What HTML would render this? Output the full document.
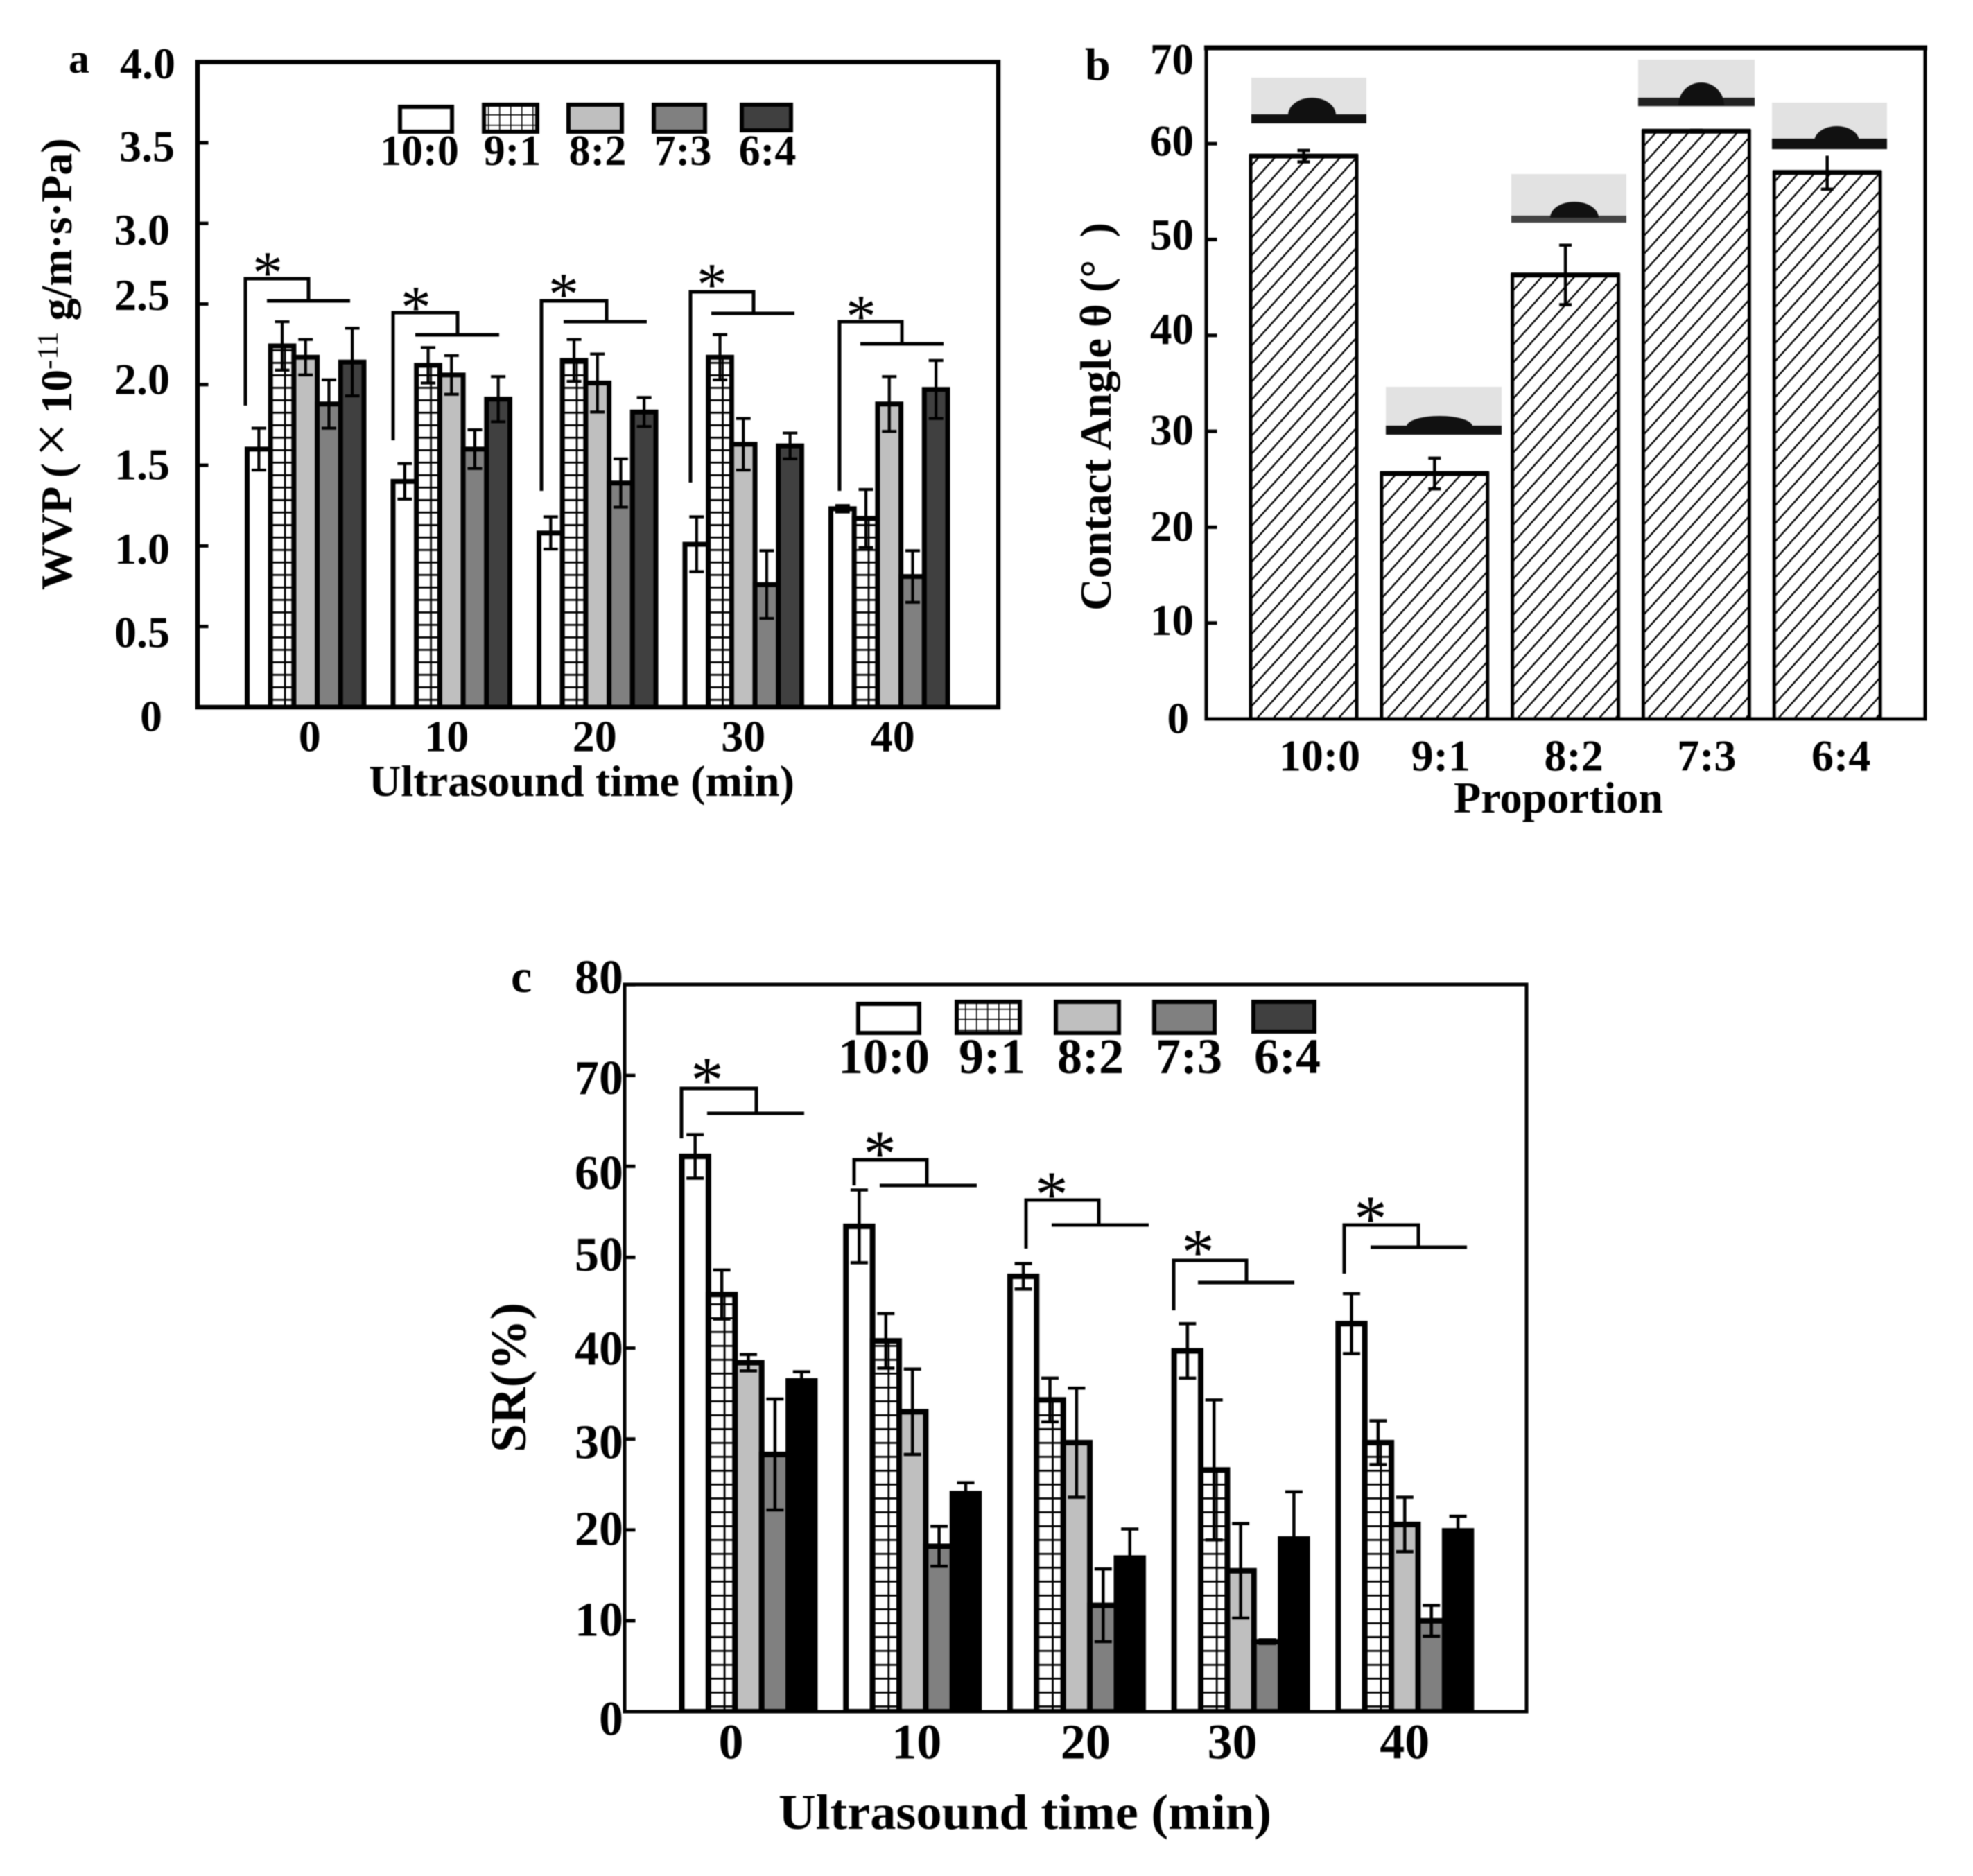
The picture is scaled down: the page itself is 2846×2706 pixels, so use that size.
<!DOCTYPE html>
<html lang="en">
<head>
<meta charset="utf-8">
<title>WVP, contact angle and SR charts</title>
<style>
html,body{margin:0;padding:0;background:#fff;}
#figure{display:block;width:2846px;height:2706px;filter:blur(0.9px);}
text{font-family:"Liberation Serif","DejaVu Serif",serif;font-weight:bold;fill:#000;}
.star{font-weight:normal;}
.ln{stroke:#000;stroke-width:5;fill:none;}
</style>
</head>
<body>
<svg id="figure" xmlns="http://www.w3.org/2000/svg" width="2846" height="2706" viewBox="0 0 2846 2706">
<defs>
<clipPath id="clipA"><rect x="285" y="89" width="1155" height="931"/></clipPath>
<clipPath id="clipB"><rect x="1740" y="69" width="1037" height="968"/></clipPath>
<clipPath id="clipC"><rect x="901" y="1420" width="1301" height="1049"/></clipPath>
<pattern id="crossRowsA" patternUnits="userSpaceOnUse" width="40" height="18"><rect width="40" height="18" fill="#fff"/><path d="M0 0H40" stroke="#000" stroke-width="5.6"/></pattern>
<pattern id="crossRowsC" patternUnits="userSpaceOnUse" width="40" height="20"><rect width="40" height="20" fill="#fff"/><path d="M0 0H40" stroke="#000" stroke-width="5.6"/></pattern>
<pattern id="crossLegend" patternUnits="userSpaceOnUse" width="16" height="15"><rect width="16" height="15" fill="#fff"/><path d="M0 0H16M0 0V15" stroke="#000" stroke-width="3"/></pattern>
<pattern id="hatch" patternUnits="userSpaceOnUse" width="23.5" height="26"><rect width="23.5" height="26" fill="#fff"/><path d="M-2.35 28.6L25.85 -2.6M-2.35 2.6L2.35 -2.6M21.15 28.6L25.85 23.4" stroke="#000" stroke-width="2.4"/></pattern>
</defs>
<rect width="2846" height="2706" fill="#fff"/>

<!-- PANEL A -->
<g id="panelA">
<text x="99" y="105" font-size="60">a</text>
<g id="barsA" clip-path="url(#clipA)"></g>
<rect x="285" y="89.5" width="1155" height="930.5" fill="none" stroke="#000" stroke-width="6.5"/>
<g id="ticksA"></g>
<g id="xLabelsA"></g>
<text x="532" y="1148" font-size="64" textLength="614" lengthAdjust="spacingAndGlyphs">Ultrasound time (min)</text>
<text transform="translate(103 851) rotate(-90)" font-size="64">WVP (<tspan font-size="87" font-weight="normal" dx="9">×</tspan><tspan dx="13">10</tspan><tspan font-size="42" font-weight="normal" dy="-20">-11</tspan><tspan dy="20"> g/m·s·Pa)</tspan></text>
<g>
<g><rect x="577" y="154" width="75" height="36" fill="#fff" stroke="#000" stroke-width="6"/><text x="605" y="238" font-size="62" text-anchor="middle">10:0</text></g>
<g><rect x="698" y="151" width="77" height="39" fill="url(#crossLegend)" stroke="#000" stroke-width="6"/><text x="739" y="238" font-size="62" text-anchor="middle">9:1</text></g>
<g><rect x="820" y="151" width="77" height="39" fill="#bfbfbf" stroke="#000" stroke-width="6"/><text x="862" y="238" font-size="62" text-anchor="middle">8:2</text></g>
<g><rect x="943" y="151" width="74" height="39" fill="#808080" stroke="#000" stroke-width="6"/><text x="985" y="238" font-size="62" text-anchor="middle">7:3</text></g>
<g><rect x="1070" y="151" width="71" height="37" fill="#404040" stroke="#000" stroke-width="6"/><text x="1107" y="238" font-size="62" text-anchor="middle">6:4</text></g>
</g>
<g>
<path class="ln" d="M354 585V402H445V434M385 434H505"/><text class="star" x="386" y="423" font-size="88" text-anchor="middle">*</text>
<path class="ln" d="M567 635V451H660V483M599 483H720"/><text class="star" x="600" y="473" font-size="88" text-anchor="middle">*</text>
<path class="ln" d="M781 708V434H875V464M813 464H933"/><text class="star" x="813" y="454" font-size="88" text-anchor="middle">*</text>
<path class="ln" d="M996 696V421H1087V452M1026 452H1146"/><text class="star" x="1027" y="440" font-size="88" text-anchor="middle">*</text>
<path class="ln" d="M1211 708V464H1301V496M1241 496H1361"/><text class="star" x="1242" y="486" font-size="88" text-anchor="middle">*</text>
</g>
</g>

<!-- PANEL B -->
<g id="panelB">
<text x="1565" y="115" font-size="66">b</text>
<g id="barsB" clip-path="url(#clipB)"></g>
<rect x="1740" y="69" width="1037" height="968" fill="none" stroke="#000" stroke-width="5"/>
<line x1="1737" y1="69" x2="2780" y2="69" stroke="#000" stroke-width="7"/>
<g id="ticksB"></g>
<g id="xLabelsB"></g>
<text x="2097" y="1172" font-size="64" textLength="302" lengthAdjust="spacingAndGlyphs">Proportion</text>
<text transform="translate(1602 881) rotate(-90)" font-size="64" textLength="560" lengthAdjust="spacingAndGlyphs">Contact Angle θ (°&#160;&#160;)</text>
<g><rect x="1805" y="112" width="166" height="66" fill="#e2e2e2"/><rect x="1805" y="165" width="166" height="13" fill="#111"/><path d="M1858 166A34.5 25 0 0 1 1927 166Z" fill="#111"/></g>
<g><rect x="1999" y="558" width="167" height="69" fill="#e2e2e2"/><rect x="1999" y="614" width="167" height="13" fill="#111"/><path d="M2029 615A47.5 15 0 0 1 2124 615Z" fill="#111"/></g>
<g><rect x="2180" y="251" width="166" height="71" fill="#e2e2e2"/><rect x="2180" y="311" width="166" height="10" fill="#444"/><path d="M2236 314A35 23 0 0 1 2306 314Z" fill="#111"/></g>
<g><rect x="2363" y="86" width="168" height="69" fill="#e2e2e2"/><rect x="2363" y="141" width="168" height="12" fill="#222"/><path d="M2421 152A33 33 0 0 1 2487 152Z" fill="#111"/></g>
<g><rect x="2556" y="148" width="166" height="68" fill="#e2e2e2"/><rect x="2556" y="200" width="166" height="15" fill="#111"/><path d="M2617 204A32.5 22 0 0 1 2682 204Z" fill="#111"/></g>
</g>

<!-- PANEL C -->
<g id="panelC">
<text x="737" y="1431" font-size="68">c</text>
<g id="barsC" clip-path="url(#clipC)"></g>
<rect x="901" y="1420" width="1301" height="1049" fill="none" stroke="#000" stroke-width="5"/>
<g id="ticksC"></g>
<g id="xLabelsC"></g>
<text x="1123" y="2638" font-size="72" textLength="711" lengthAdjust="spacingAndGlyphs">Ultrasound time (min)</text>
<text transform="translate(758 2095) rotate(-90)" font-size="73" textLength="216" lengthAdjust="spacingAndGlyphs">SR(%)</text>
<g>
<g><rect x="1238" y="1448" width="88" height="42" fill="#fff" stroke="#000" stroke-width="6"/><text x="1275" y="1548" font-size="72" text-anchor="middle">10:0</text></g>
<g><rect x="1380" y="1445" width="91" height="45" fill="url(#crossLegend)" stroke="#000" stroke-width="6"/><text x="1431" y="1548" font-size="72" text-anchor="middle">9:1</text></g>
<g><rect x="1523" y="1445" width="91" height="45" fill="#bfbfbf" stroke="#000" stroke-width="6"/><text x="1573" y="1548" font-size="72" text-anchor="middle">8:2</text></g>
<g><rect x="1665" y="1445" width="87" height="45" fill="#808080" stroke="#000" stroke-width="6"/><text x="1715" y="1548" font-size="72" text-anchor="middle">7:3</text></g>
<g><rect x="1808" y="1445" width="88" height="43" fill="#404040" stroke="#000" stroke-width="6"/><text x="1857" y="1548" font-size="72" text-anchor="middle">6:4</text></g>
</g>
<g>
<path class="ln" d="M983 1642V1570H1091V1606M1020 1606H1160"/><text class="star" x="1020" y="1590" font-size="95" text-anchor="middle">*</text>
<path class="ln" d="M1232 1710V1673H1337V1710M1269 1710H1409"/><text class="star" x="1269" y="1696" font-size="95" text-anchor="middle">*</text>
<path class="ln" d="M1480 1801V1731H1585V1767M1517 1767H1657"/><text class="star" x="1517" y="1755" font-size="95" text-anchor="middle">*</text>
<path class="ln" d="M1693 1890V1818H1798V1850M1728 1850H1867"/><text class="star" x="1728" y="1838" font-size="95" text-anchor="middle">*</text>
<path class="ln" d="M1939 1837V1767H2046V1799M1977 1799H2116"/><text class="star" x="1977" y="1790" font-size="95" text-anchor="middle">*</text>
</g>
</g>
</svg>

<script>
// ---- data ----
const timeCategories = ['0', '10', '20', '30', '40'];
const proportionCategories = ['10:0', '9:1', '8:2', '7:3', '6:4'];

// Panel a: WVP
const wvpTicks = [0, 0.5, 1.0, 1.5, 2.0, 2.5, 3.0, 3.5, 4.0];
const wvpTickLabels = ['0', '0.5', '1.0', '1.5', '2.0', '2.5', '3.0', '3.5', '4.0'];
const wvp10to0 = [1.60, 1.40, 1.08, 1.01, 1.23];
const wvp9to1 = [2.24, 2.12, 2.15, 2.17, 1.17];
const wvp8to2 = [2.17, 2.06, 2.01, 1.63, 1.88];
const wvp7to3 = [1.88, 1.60, 1.39, 0.76, 0.81];
const wvp6to4 = [2.14, 1.91, 1.83, 1.62, 1.97];
const wvpErr10to0 = [0.13, 0.11, 0.10, 0.17, 0.02];
const wvpErr9to1 = [0.15, 0.11, 0.13, 0.14, 0.18];
const wvpErr8to2 = [0.11, 0.12, 0.18, 0.16, 0.17];
const wvpErr7to3 = [0.15, 0.12, 0.15, 0.21, 0.16];
const wvpErr6to4 = [0.21, 0.14, 0.09, 0.08, 0.18];

// Panel b: contact angle
const angleTicks = [0, 10, 20, 30, 40, 50, 60, 70];
const angleTickLabels = ['0', '10', '20', '30', '40', '50', '60', '70'];
const angleValues = [58.7, 25.6, 46.3, 61.3, 57.0];
const angleErrors = [0.6, 1.6, 3.1, 0.1, 1.75];

// Panel c: SR
const srTicks = [0, 10, 20, 30, 40, 50, 60, 70, 80];
const srTickLabels = ['0', '10', '20', '30', '40', '50', '60', '70', '80'];
const sr10to0 = [61.1, 53.4, 47.9, 39.7, 42.7];
const sr9to1 = [45.9, 40.8, 34.3, 26.6, 29.6];
const sr8to2 = [38.4, 33.0, 29.6, 15.5, 20.6];
const sr7to3 = [28.3, 18.2, 11.7, 7.7, 10.0];
const sr6to4 = [36.4, 24.0, 16.9, 19.0, 19.9];
const srErr10to0 = [2.4, 4.0, 1.4, 3.0, 3.3];
const srErr9to1 = [2.7, 3.0, 2.4, 7.7, 2.4];
const srErr8to2 = [0.9, 4.7, 6.0, 5.2, 3.0];
const srErr7to3 = [6.1, 2.2, 4.0, 0.2, 1.7];
const srErr6to4 = [1.0, 1.2, 3.2, 5.2, 1.6];

// ---- layout: hand-placed label offsets in the original figure ----
const labelShiftAY = [13, 8, 4, -1, -8, -13, 9, 5, 2];
const labelShiftAX = [-11, 0, 0, 0, 0, 0, 0, 7, 8];
const labelShiftBY = [-1, -4, -1, -2, -9, -7, -4, 17];
const labelShiftBX = [-7, 0, 0, 0, 0, 0, 0, 0];
const labelShiftCY = [10, -2, -2, 4, 0, -4, 9, 3, -11];
const groupLabelShiftA = [6, -7, -4, 0, 5];
const groupLabelShiftB = [23, 9, 12, 15, 20];
const groupLabelShiftC = [-25, 6, 13, -12, 0];

// ---- axis functions ----
const yA = v => 1020 - v * 232.6;
const xA = (g, s) => 356.5 + g * 210.5 + s * 33.7;
const yB = v => 1037 - v * 13.83;
const xB = i => 1804 + i * 188.8;
const yC = v => 2469 - v * 13.11;
const xC = (g, s) => 983.5 + g * 236.7 + s * 38.4;

const NS = 'http://www.w3.org/2000/svg';
function make(tag, attrs, parent) {
  const el = document.createElementNS(NS, tag);
  for (const k in attrs) el.setAttribute(k, attrs[k]);
  parent.appendChild(el);
  return el;
}

function drawErrorBar(parent, cx, yTop, yLow, capW, sw, showTopCap) {
  const g = make('g', {stroke: '#000', 'stroke-width': sw, fill: 'none'}, parent);
  
  
  make('line', {x1: cx, x2: cx, y1: yTop, y2: yLow}, g);
  if (showTopCap) make('line', {x1: cx - capW / 2, x2: cx + capW / 2, y1: yTop, y2: yTop}, g);
  make('line', {x1: cx - capW / 2, x2: cx + capW / 2, y1: yLow, y2: yLow}, g);
}

function drawYAxis(parent, ticks, labels, yFn, axisX, rightEdge, shiftX, shiftY, size) {
  ticks.forEach((t, i) => {
    const tick = make('line', {x1: axisX, x2: axisX + 15.5, y1: yFn(t), y2: yFn(t), stroke: '#000', 'stroke-width': 5}, parent);
    
    
    const label = make('text', {x: rightEdge + shiftX[i], y: yFn(t) + shiftY[i] + size * 0.338, 'font-size': size, 'text-anchor': 'end'}, parent);
    
    
    label.textContent = labels[i];
  });
}

function drawXLabels(parent, labels, centerFn, shift, yCenter, size) {
  labels.forEach((c, i) => {
    const label = make('text', {x: centerFn(i) + shift[i], y: yCenter + size * 0.338, 'font-size': size, 'text-anchor': 'middle'}, parent);
    
    
    label.textContent = c;
  });
}

function drawGroupedBars(parent, series, errors, fills, xFn, yFn, barW, capW, barStroke, errStroke) {
  const base = yFn(0);
  series.forEach((vals, s) => {
    vals.forEach((v, g) => {
      const bar = make('rect', {x: xFn(g, s), y: yFn(v), width: barW, height: base - yFn(v), fill: fills[s], stroke: '#000', 'stroke-width': barStroke}, parent);
      
      
      if (s === 1) {
        const grid = make('line', {x1: xFn(g, s) + barW / 2 + 4, x2: xFn(g, s) + barW / 2 + 4, y1: yFn(v), y2: base, stroke: '#000', 'stroke-width': 2.8}, parent);
        
        
      }
    });
  });
  series.forEach((vals, s) => {
    vals.forEach((v, g) => {
      drawErrorBar(parent, xFn(g, s) + barW / 2, yFn(v + errors[s][g]), yFn(v - errors[s][g]), capW, errStroke, true);
    });
  });
}

// ---- panel a ----
drawGroupedBars(document.getElementById('barsA'),
  [wvp10to0, wvp9to1, wvp8to2, wvp7to3, wvp6to4],
  [wvpErr10to0, wvpErr9to1, wvpErr8to2, wvpErr7to3, wvpErr6to4],
  ['#fff', 'url(#crossRowsA)', '#bfbfbf', '#808080', '#404040'],
  xA, yA, 33.7, 21, 7, 4.2);
drawYAxis(document.getElementById('ticksA'), wvpTicks, wvpTickLabels, yA, 285, 245, labelShiftAX, labelShiftAY, 64);
drawXLabels(document.getElementById('xLabelsA'), timeCategories, i => 352 + i * 210.5 + 2.5 * 33.7 + 4.5, groupLabelShiftA, 1062, 64);

// ---- panel b ----
const barsB = document.getElementById('barsB');
angleValues.forEach((v, i) => {
  const bar = make('rect', {x: xB(i), y: yB(v), width: 153, height: yB(0) - yB(v), fill: 'url(#hatch)', stroke: '#000', 'stroke-width': 5}, barsB);
  
  
  const top = make('line', {x1: xB(i) - 2, x2: xB(i) + 155, y1: yB(v), y2: yB(v), stroke: '#000', 'stroke-width': 7}, barsB);
  
  
});
angleValues.forEach((v, i) => {
  drawErrorBar(barsB, xB(i) + 76.5, yB(v + angleErrors[i]), yB(v - angleErrors[i]), 18, 4.5, i !== 4);
});
drawYAxis(document.getElementById('ticksB'), angleTicks, angleTickLabels, yB, 1740, 1722, labelShiftBX, labelShiftBY, 63);
drawXLabels(document.getElementById('xLabelsB'), proportionCategories, i => xB(i) + 76.5, groupLabelShiftB, 1090, 64);

// ---- panel c ----
drawGroupedBars(document.getElementById('barsC'),
  [sr10to0, sr9to1, sr8to2, sr7to3, sr6to4],
  [srErr10to0, srErr9to1, srErr8to2, srErr7to3, srErr6to4],
  ['#fff', 'url(#crossRowsC)', '#bfbfbf', '#808080', '#000'],
  xC, yC, 38.4, 25, 8, 4.5);
drawYAxis(document.getElementById('ticksC'), srTicks, srTickLabels, yC, 901, 899, srTicks.map(() => 0), labelShiftCY, 70);
drawXLabels(document.getElementById('xLabelsC'), timeCategories, i => xC(i, 2.5), groupLabelShiftC, 2512, 72);
</script>
</body>
</html>
